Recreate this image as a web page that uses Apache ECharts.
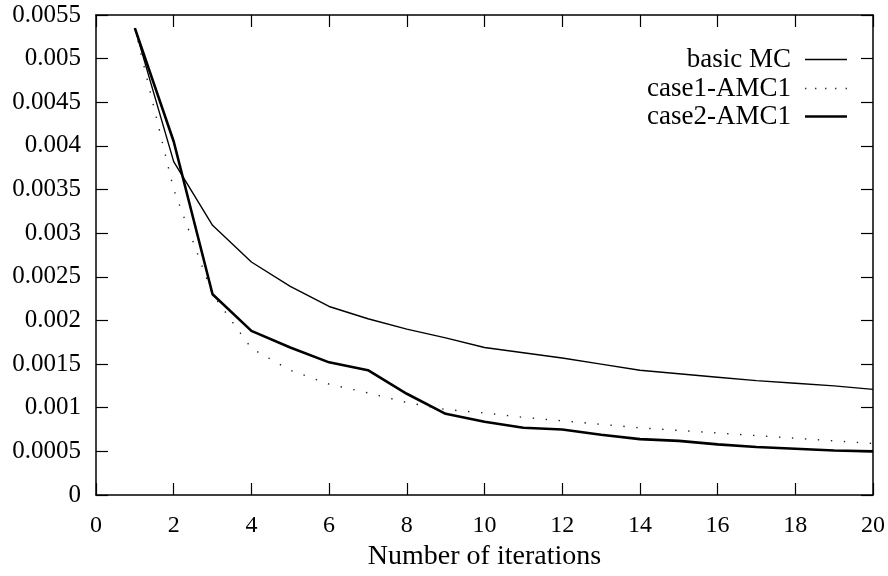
<!DOCTYPE html>
<html>
<head>
<meta charset="utf-8">
<script src="https://cdn.jsdelivr.net/npm/echarts@6/dist/echarts.min.js"></script>
<style>
  html, body { margin: 0; padding: 0; background: #fff; }
  #chart { width: 888px; height: 576px; }
</style>
</head>
<body>
<div id="chart"></div>
<script>
// Iteration counts on the x axis
const iterations = [1, 2, 3, 4, 5, 6, 7, 8, 9, 10, 11, 12, 13, 14, 15, 16, 17, 18, 19, 20];

// Error estimates per iteration
const basicMC = [0.00535, 0.00382, 0.00309, 0.00267, 0.00239, 0.00216, 0.00202, 0.00190, 0.00180, 0.00169,
                 0.00163, 0.00157, 0.00150, 0.00143, 0.00139, 0.00135, 0.00131, 0.00128, 0.00125, 0.00121];
const case1AMC1 = [0.00535, 0.00350, 0.00230, 0.00168, 0.00143, 0.00127, 0.00117, 0.00106, 0.00098, 0.00094,
                   0.00089, 0.00085, 0.00081, 0.00077, 0.00074, 0.00071, 0.00068, 0.00065, 0.00062, 0.00059];
const case2AMC1 = [0.00535, 0.00405, 0.00230, 0.00188, 0.00169, 0.00152, 0.00143, 0.00116, 0.00093, 0.00084,
                   0.00077, 0.00075, 0.00069, 0.00064, 0.00062, 0.00058, 0.00055, 0.00053, 0.00051, 0.00050];

// Tick labels
const xTicks = [0, 2, 4, 6, 8, 10, 12, 14, 16, 18, 20];
const yTicks = ['0', '0.0005', '0.001', '0.0015', '0.002', '0.0025', '0.003', '0.0035', '0.004', '0.0045', '0.005', '0.0055'];

const seriesNames = ['basic MC', 'case1-AMC1', 'case2-AMC1'];

const FONT = 'Liberation Serif';

const toPairs = (ys) => iterations.map((x, i) => [x, ys[i]]);

const frameLine = { show: true, onZero: false, lineStyle: { color: '#000', width: 1.5 } };
const inTicks = { show: true, inside: true, length: 12, lineStyle: { color: '#000', width: 1.2 } };

// Legend keys: a bar for the solid lines, a row of dots for the dotted one
const THIN_KEY = 'path://M0,0h42v1.3h-42z';
const THICK_KEY = 'path://M0,0h42v2.6h-42z';
const DOTTED_KEY = 'path://M0,0h1.4v1.4h-1.4zM10,0h1.4v1.4h-1.4zM20,0h1.4v1.4h-1.4zM30,0h1.4v1.4h-1.4zM40.6,0h1.4v1.4h-1.4z';

const chart = echarts.init(document.getElementById('chart'), null, { renderer: 'canvas' });

const legendEntry = (name, top, icon, h, color) => ({
  data: [{ name: name, icon: icon, itemStyle: { color: color } }],
  right: 36,
  top: top,
  align: 'right',
  itemWidth: 42,
  itemHeight: h,
  itemGap: 0,
  textStyle: { fontFamily: FONT, fontSize: 27, color: '#000', padding: [0, 9, 0, 0] },
  selectedMode: false
});

chart.setOption({
  animation: false,
  backgroundColor: '#fff',
  grid: { left: 96, right: 14, top: 15, bottom: 73, containLabel: false },
  legend: [
    legendEntry(seriesNames[0], 41, THIN_KEY, 1.3, '#000'),
    legendEntry(seriesNames[1], 70, DOTTED_KEY, 1.4, '#333'),
    legendEntry(seriesNames[2], 98, THICK_KEY, 2.6, '#000')
  ],
  xAxis: [
    {
      type: 'value', min: 0, max: 20, interval: 2, position: 'bottom',
      name: 'Number of iterations', nameLocation: 'middle', nameGap: 48,
      nameTextStyle: { fontFamily: FONT, fontSize: 28, color: '#000' },
      axisLine: frameLine, axisTick: inTicks, splitLine: { show: false },
      axisLabel: {
        fontFamily: FONT, fontSize: 24, color: '#000', margin: 19,
        formatter: (v) => String(xTicks[Math.round(v / 2)])
      }
    },
    {
      type: 'value', min: 0, max: 20, interval: 2, position: 'top',
      axisLine: frameLine, axisTick: inTicks, splitLine: { show: false },
      axisLabel: { show: false }
    }
  ],
  yAxis: [
    {
      type: 'value', min: 0, max: 0.0055, interval: 0.0005, position: 'left',
      axisLine: frameLine, axisTick: inTicks, splitLine: { show: false },
      axisLabel: {
        fontFamily: FONT, fontSize: 25, color: '#000', margin: 15,
        formatter: (v) => yTicks[Math.round(v / 0.0005)]
      }
    },
    {
      type: 'value', min: 0, max: 0.0055, interval: 0.0005, position: 'right',
      axisLine: frameLine, axisTick: inTicks, splitLine: { show: false },
      axisLabel: { show: false }
    }
  ],
  series: [
    {
      name: seriesNames[0], type: 'line', data: toPairs(basicMC),
      showSymbol: false, symbol: 'none', color: '#000',
      lineStyle: { color: '#000', width: 1.4 }
    },
    {
      name: seriesNames[1], type: 'line', data: toPairs(case1AMC1),
      showSymbol: false, symbol: 'none', color: '#333',
      lineStyle: { color: '#222', width: 1.4, type: [1.4, 11.6] }
    },
    {
      name: seriesNames[2], type: 'line', data: toPairs(case2AMC1),
      showSymbol: false, symbol: 'none', color: '#000',
      lineStyle: { color: '#000', width: 2.6 }
    }
  ]
});
</script>
</body>
</html>
